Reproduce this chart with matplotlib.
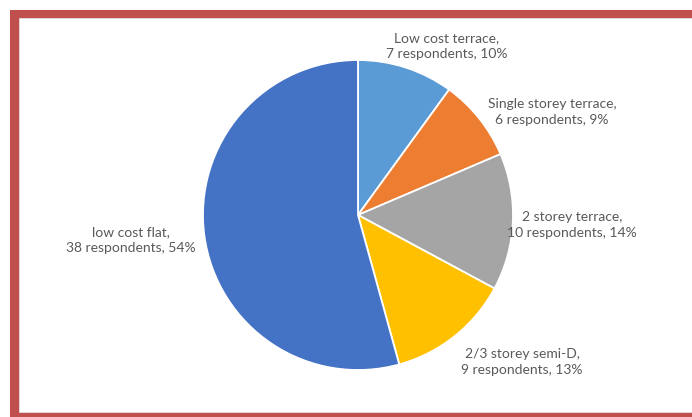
import matplotlib.pyplot as plt
from matplotlib.patches import Rectangle

# survey data
labels = ['Low cost terrace', 'Single storey terrace', '2 storey terrace',
          '2/3 storey semi-D', 'low cost flat']
respondents = [7, 6, 10, 9, 38]
percents = [10, 9, 14, 13, 54]
colors = ['#5B9BD5', '#ED7D31', '#A5A5A5', '#FFC000', '#4472C4']

# label anchor points (pixel layout, y measured from bottom)
label_pos = [(447, 371), (552, 305), (572, 192), (522, 55), (131, 177)]

plt.rcParams['font.family'] = ['Lato', 'DejaVu Sans']

W, H = 692, 417
fig = plt.figure(figsize=(W / 100, H / 100), dpi=100)
ax = fig.add_axes([0, 0, 1, 1])

# red frame around the chart
ax.add_patch(Rectangle((10, -20), 720, 427, facecolor='#C0504D', edgecolor='none'))
ax.add_patch(Rectangle((19, 5), 720, 394, facecolor='white', edgecolor='#E6D6D6', linewidth=0.7))

ax.pie(respondents, colors=colors, startangle=90, counterclock=False,
       center=(358, 202), radius=155, frame=True,
       wedgeprops=dict(edgecolor='white', linewidth=1.3))
ax.set_xlim(0, W)
ax.set_ylim(0, H)
ax.set_aspect('auto')
ax.axis('off')

for name, n, p, (x, y) in zip(labels, respondents, percents, label_pos):
    ax.text(x, y, f'{name},\n{n} respondents, {p}%', ha='center', va='center',
            fontsize=10, color='#595959', linespacing=1.4)

fig.savefig('out.png', dpi=100)
